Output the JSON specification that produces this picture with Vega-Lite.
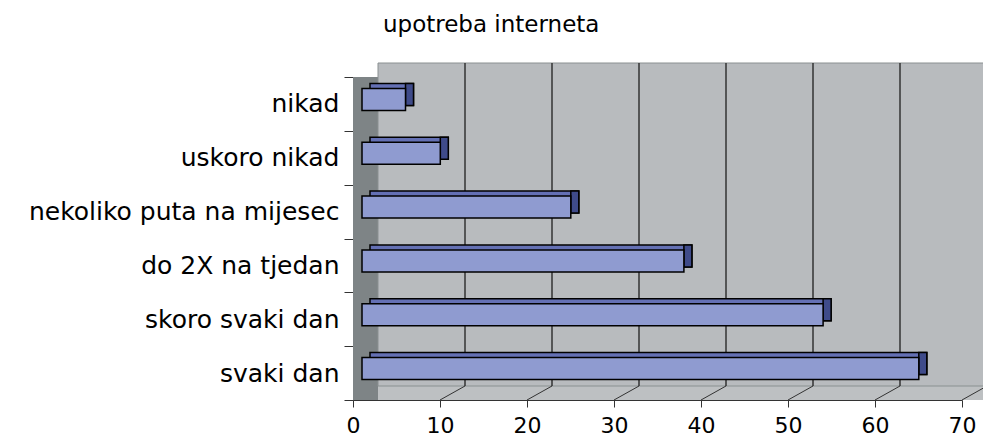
{
  "$schema": "https://vega.github.io/schema/vega-lite/v6.json",
  "width": 609,
  "height": 323,
  "autosize": {"type": "none"},
  "padding": {"left": 353, "top": 77, "right": 21, "bottom": 36},
  "background": "#ffffff",
  "config": {"view": {"stroke": null}},
  "title": {
    "text": "upotreba interneta",
    "anchor": "start",
    "frame": "group",
    "dx": 30,
    "offset": 7,
    "baseline": "alphabetic",
    "font": "DejaVu Sans",
    "fontSize": 23,
    "fontWeight": "normal",
    "color": "#000000"
  },
  "data": {
    "values": [
      {"k": "nikad", "v": 5},
      {"k": "uskoro nikad", "v": 9},
      {"k": "nekoliko puta na mijesec", "v": 24},
      {"k": "do 2X na tjedan", "v": 37},
      {"k": "skoro svaki dan", "v": 53},
      {"k": "svaki dan", "v": 64}
    ]
  },
  "layer": [
    {
      "data": {"values": [{}]},
      "mark": {"type": "rect", "fill": "#bdc0c2", "x2Offset": 25},
      "encoding": {
        "x": {"datum": 0, "type": "quantitative", "scale": {"domain": [0, 70], "nice": false}},
        "x2": {"datum": 70}
      }
    },
    {
      "data": {"values": [{}]},
      "mark": {"type": "rect", "fill": "#7e8486", "x2Offset": 25},
      "encoding": {
        "x": {"datum": 0, "type": "quantitative"},
        "x2": {"datum": 0}
      }
    },
    {
      "data": {"values": [{}]},
      "mark": {"type": "rect", "fill": "#b8bbbe", "stroke": "#8a9091", "strokeWidth": 1, "xOffset": 25, "x2Offset": 25, "yOffset": -14, "y2Offset": -14},
      "encoding": {
        "x": {"datum": 0, "type": "quantitative"},
        "x2": {"datum": 70},
        "y": {"value": 0},
        "y2": {"value": {"expr": "height"}}
      }
    },
    {
      "data": {"values": [{"t": 10}, {"t": 20}, {"t": 30}, {"t": 40}, {"t": 50}, {"t": 60}]},
      "mark": {"type": "rule", "color": "#333333", "strokeWidth": 1.5, "xOffset": 25, "yOffset": -14, "y2Offset": -14},
      "encoding": {
        "x": {"field": "t", "type": "quantitative"},
        "y": {"value": 0},
        "y2": {"value": {"expr": "height"}}
      }
    },
    {
      "data": {"values": [{"t": 10}, {"t": 20}, {"t": 30}, {"t": 40}, {"t": 50}, {"t": 60}, {"t": 70}]},
      "mark": {"type": "rule", "color": "#333333", "strokeWidth": 1, "x2Offset": 25, "y2Offset": -14},
      "encoding": {
        "x": {"field": "t", "type": "quantitative"},
        "x2": {"field": "t"},
        "y": {"value": {"expr": "height"}},
        "y2": {"value": {"expr": "height"}}
      }
    },
    {
      "mark": {"type": "bar", "fill": "#6470b4", "stroke": "#000000", "strokeWidth": 1.5, "height": 22, "xOffset": 17, "x2Offset": 17, "yOffset": -9.5},
      "encoding": {
        "y": {"field": "k", "type": "nominal", "sort": null, "scale": {"paddingInner": 0, "paddingOuter": 0}},
        "x": {"field": "v", "type": "quantitative"},
        "x2": {"datum": 0}
      }
    },
    {
      "mark": {"type": "bar", "fill": "#3f4b8a", "stroke": "#000000", "strokeWidth": 1.5, "height": 22, "xOffset": 9, "x2Offset": 17, "yOffset": -9.5},
      "encoding": {
        "y": {"field": "k", "type": "nominal", "sort": null},
        "x": {"field": "v", "type": "quantitative"},
        "x2": {"field": "v"}
      }
    },
    {
      "mark": {"type": "bar", "fill": "#8f9bd0", "stroke": "#000000", "strokeWidth": 1.5, "height": 22, "xOffset": 9, "x2Offset": 9, "yOffset": -4.5},
      "encoding": {
        "y": {
          "field": "k", "type": "nominal", "sort": null, "title": null,
          "axis": {
            "tickBand": "extent",
            "domainColor": "#333333",
            "tickColor": "#333333",
            "tickSize": 9,
            "labelPadding": 5,
            "labelFont": "DejaVu Sans",
            "labelFontSize": 25,
            "labelColor": "#000000",
            "labelLimit": 400,
            "grid": false
          }
        },
        "x": {
          "field": "v", "type": "quantitative", "title": null,
          "axis": {
            "values": [0, 10, 20, 30, 40, 50, 60, 70],
            "domainColor": "#333333",
            "tickColor": "#333333",
            "tickSize": 7,
            "labelPadding": 8,
            "labelFont": "DejaVu Sans",
            "labelFontSize": 22,
            "labelColor": "#000000",
            "labelFlush": false,
            "grid": false
          }
        },
        "x2": {"datum": 0}
      }
    }
  ]
}
